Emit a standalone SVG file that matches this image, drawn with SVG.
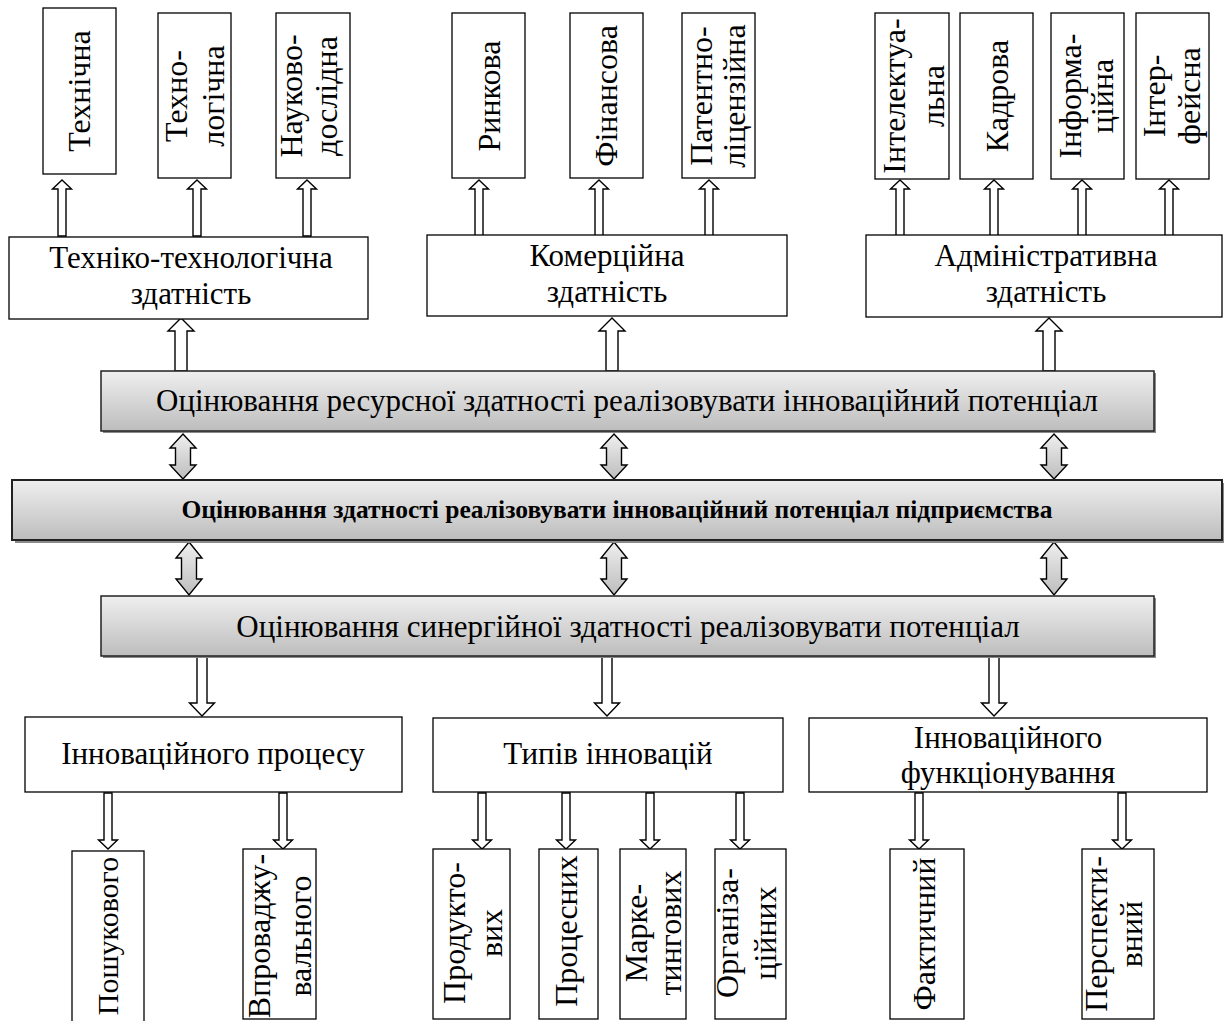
<svg xmlns="http://www.w3.org/2000/svg" width="1224" height="1021" viewBox="0 0 1224 1021">
<style>
text{font-family:"Liberation Serif","Times New Roman",serif;fill:#000;text-anchor:middle}
.h{font-size:31px}
.v{font-size:32px}
.bar{font-size:31px}
.bold{font-size:25.5px;font-weight:bold}
.box{fill:#fff;stroke:#000;stroke-width:1.3}
.gbar{fill:url(#g);stroke:#222;stroke-width:1.5}
.shadow{fill:#8a8a8a}
.arr{fill:#fff;stroke:#000;stroke-width:1.4;stroke-linejoin:miter}
.darr{fill:url(#g);stroke:#000;stroke-width:1.4;stroke-linejoin:miter}
</style>
<defs>
<linearGradient id="g" x1="0" y1="0" x2="0" y2="1">
<stop offset="0" stop-color="#efefef"/>
<stop offset="1" stop-color="#bdbdbd"/>
</linearGradient>
<path id="upS" d="M0,0 L9.5,9 L4,9 L4,56 L-4,56 L-4,9 L-9.5,9 Z"/>
<path id="upM" d="M0,0 L13,13 L6,13 L6,53 L-6,53 L-6,13 L-13,13 Z"/>
<path id="dnM" d="M-5,0 L5,0 L5,47 L12.5,47 L0,60 L-12.5,47 L-5,47 Z"/>
<path id="dnS" d="M-4,0 L4,0 L4,47 L9.5,47 L0,56 L-9.5,47 L-4,47 Z"/>
<path id="dbl1" d="M0,0 L13,14 L7.5,14 L7.5,31 L13,31 L0,45 L-13,31 L-7.5,31 L-7.5,14 L-13,14 Z"/>
<path id="dbl2" d="M0,0 L13,16 L7.5,16 L7.5,37 L13,37 L0,53 L-13,37 L-7.5,37 L-7.5,16 L-13,16 Z"/>
</defs>
<rect width="1224" height="1021" fill="#fff"/>

<g id="connectors">
<use href="#upS" class="arr" x="62" y="180"/>
<use href="#upS" class="arr" x="197" y="180"/>
<use href="#upS" class="arr" x="307" y="180"/>
<use href="#upS" class="arr" x="479" y="180"/>
<use href="#upS" class="arr" x="599" y="180"/>
<use href="#upS" class="arr" x="709" y="180"/>
<use href="#upS" class="arr" x="900" y="180"/>
<use href="#upS" class="arr" x="994" y="180"/>
<use href="#upS" class="arr" x="1082" y="180"/>
<use href="#upS" class="arr" x="1169" y="180"/>
<use href="#upM" class="arr" x="181" y="318"/>
<use href="#upM" class="arr" x="612" y="318"/>
<use href="#upM" class="arr" x="1049" y="318"/>
<use href="#dbl1" class="darr" x="183" y="434"/>
<use href="#dbl1" class="darr" x="614" y="434"/>
<use href="#dbl1" class="darr" x="1054" y="434"/>
<use href="#dbl2" class="darr" x="189" y="542"/>
<use href="#dbl2" class="darr" x="614" y="542"/>
<use href="#dbl2" class="darr" x="1054" y="542"/>
<use href="#dnM" class="arr" x="202" y="656"/>
<use href="#dnM" class="arr" x="607" y="656"/>
<use href="#dnM" class="arr" x="994" y="656"/>
<use href="#dnS" class="arr" x="108" y="793"/>
<use href="#dnS" class="arr" x="283" y="793"/>
<use href="#dnS" class="arr" x="482" y="793"/>
<use href="#dnS" class="arr" x="566" y="793"/>
<use href="#dnS" class="arr" x="650" y="793"/>
<use href="#dnS" class="arr" x="740" y="793"/>
<use href="#dnS" class="arr" x="919" y="793"/>
<use href="#dnS" class="arr" x="1122" y="793"/>
</g>

<g id="n-technichna"><rect class="box" x="43" y="8" width="73" height="166"/>
<text class="v" transform="translate(90,91) rotate(-90)">Технічна</text></g>
<g id="n-tekhnologichna"><rect class="box" x="158" y="13" width="73" height="165"/>
<text class="v" transform="translate(187,96) rotate(-90)">Техно-</text>
<text class="v" transform="translate(224,96) rotate(-90)">логічна</text></g>
<g id="n-naukovo"><rect class="box" x="276" y="13" width="74" height="165"/>
<text class="v" transform="translate(302,96) rotate(-90)">Науково-</text>
<text class="v" transform="translate(337,96) rotate(-90)">дослідна</text></g>
<g id="n-rynkova"><rect class="box" x="452" y="13" width="73" height="165"/>
<text class="v" transform="translate(500,96) rotate(-90)">Ринкова</text></g>
<g id="n-finansova"><rect class="box" x="570" y="13" width="73" height="165"/>
<text class="v" transform="translate(617,96) rotate(-90)">Фінансова</text></g>
<g id="n-patentno"><rect class="box" x="682" y="13" width="73" height="165"/>
<text class="v" transform="translate(712,96) rotate(-90)">Патентно-</text>
<text class="v" transform="translate(745,96) rotate(-90)">ліцензійна</text></g>
<g id="n-intelekt"><rect class="box" x="875" y="13" width="74" height="166"/>
<text class="v" transform="translate(905,96) rotate(-90)">Інтелектуа-</text>
<text class="v" transform="translate(944,96) rotate(-90)">льна</text></g>
<g id="n-kadrova"><rect class="box" x="960" y="13" width="73" height="166"/>
<text class="v" transform="translate(1008,96) rotate(-90)">Кадрова</text></g>
<g id="n-informa"><rect class="box" x="1051" y="13" width="73" height="166"/>
<text class="v" transform="translate(1081,96) rotate(-90)">Інформа-</text>
<text class="v" transform="translate(1113,96) rotate(-90)">ційна</text></g>
<g id="n-inter"><rect class="box" x="1136" y="13" width="73" height="166"/>
<text class="v" transform="translate(1165,96) rotate(-90)">Інтер-</text>
<text class="v" transform="translate(1200,96) rotate(-90)">фейсна</text></g>

<g id="n-tekhniko"><rect class="box" x="9" y="237" width="359" height="82"/>
<text class="h" x="191" y="268">Техніко-технологічна</text>
<text class="h" x="191" y="304">здатність</text></g>
<g id="n-komertsiina"><rect class="box" x="427" y="235" width="360" height="81"/>
<text class="h" x="607" y="266">Комерційна</text>
<text class="h" x="607" y="302">здатність</text></g>
<g id="n-admin"><rect class="box" x="866" y="235" width="356" height="82"/>
<text class="h" x="1046" y="266">Адміністративна</text>
<text class="h" x="1046" y="302">здатність</text></g>

<g id="n-resource"><rect class="shadow" x="103" y="373" width="1053" height="60"/>
<rect class="gbar" x="101" y="371" width="1053" height="60"/>
<text class="bar" x="627" y="411">Оцінювання ресурсної здатності реалізовувати інноваційний потенціал</text></g>
<g id="n-main"><rect class="shadow" x="15" y="483" width="1209" height="60"/>
<rect class="gbar" x="12" y="480" width="1210" height="60" style="stroke-width:2"/>
<text class="bold" x="617" y="518">Оцінювання здатності реалізовувати інноваційний потенціал підприємства</text></g>
<g id="n-synergy"><rect class="shadow" x="103" y="598" width="1053" height="60"/>
<rect class="gbar" x="101" y="596" width="1053" height="60"/>
<text class="bar" x="628" y="637">Оцінювання синергійної здатності реалізовувати потенціал</text></g>

<g id="n-protsesu"><rect class="box" x="25" y="717" width="377" height="75"/>
<text class="h" x="213" y="764">Інноваційного процесу</text></g>
<g id="n-typiv"><rect class="box" x="433" y="718" width="350" height="74"/>
<text class="h" x="608" y="764">Типів інновацій</text></g>
<g id="n-funktsion"><rect class="box" x="809" y="718" width="398" height="74"/>
<text class="h" x="1008" y="748">Інноваційного</text>
<text class="h" x="1008" y="783">функціонування</text></g>

<g id="n-poshuk"><rect class="box" x="72" y="851" width="72" height="185"/>
<text class="v" transform="translate(118,936) rotate(-90)" style="font-size:30px">Пошукового</text></g>
<g id="n-vprovad"><rect class="box" x="243" y="849" width="73" height="170"/>
<text class="v" transform="translate(270,936) rotate(-90)">Впроваджу-</text>
<text class="v" transform="translate(311,936) rotate(-90)">вального</text></g>
<g id="n-produkt"><rect class="box" x="433" y="849" width="77" height="170"/>
<text class="v" transform="translate(465,933) rotate(-90)">Продукто-</text>
<text class="v" transform="translate(502,933) rotate(-90)">вих</text></g>
<g id="n-protsesnykh"><rect class="box" x="539" y="849" width="59" height="170"/>
<text class="v" transform="translate(577,931) rotate(-90)">Процесних</text></g>
<g id="n-market"><rect class="box" x="620" y="849" width="66" height="170"/>
<text class="v" transform="translate(647,933) rotate(-90)">Марке-</text>
<text class="v" transform="translate(681,933) rotate(-90)">тингових</text></g>
<g id="n-organiz"><rect class="box" x="715" y="849" width="71" height="170"/>
<text class="v" transform="translate(738,933) rotate(-90)">Організа-</text>
<text class="v" transform="translate(776,933) rotate(-90)">ційних</text></g>
<g id="n-faktych"><rect class="box" x="890" y="849" width="74" height="170"/>
<text class="v" transform="translate(935,934) rotate(-90)">Фактичний</text></g>
<g id="n-perspekt"><rect class="box" x="1082" y="849" width="72" height="170"/>
<text class="v" transform="translate(1107,934) rotate(-90)">Перспекти-</text>
<text class="v" transform="translate(1142,934) rotate(-90)">вний</text></g>
</svg>
